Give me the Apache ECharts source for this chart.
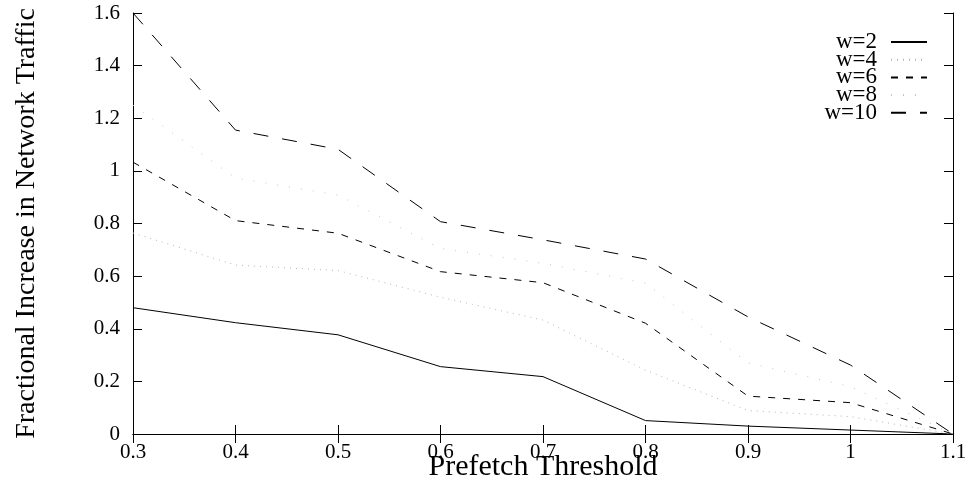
<!DOCTYPE html>
<html>
<head>
<meta charset="utf-8">
<script src="https://cdn.jsdelivr.net/npm/echarts@6/dist/echarts.min.js"></script>
<style>
html,body{margin:0;padding:0;background:#fff;}
#chart{width:967px;height:483px;}
</style>
</head>
<body>
<div id="chart"></div>
<script>
var thresholds = [0.3, 0.4, 0.5, 0.6, 0.7, 0.8, 0.9, 1.0, 1.1];
var w2  = [0.480, 0.423, 0.377, 0.256, 0.218, 0.051, 0.030, 0.015, 0];
var w4  = [0.764, 0.642, 0.621, 0.520, 0.433, 0.243, 0.089, 0.066, 0];
var w6  = [1.033, 0.811, 0.763, 0.617, 0.575, 0.421, 0.144, 0.119, 0];
var w8  = [1.250, 0.973, 0.908, 0.705, 0.649, 0.573, 0.270, 0.180, 0];
var w10 = [1.600, 1.155, 1.082, 0.807, 0.738, 0.665, 0.445, 0.262, 0];
var seriesNames = ['w=2', 'w=4', 'w=6', 'w=8', 'w=10'];
var xTicks = [0.3, 0.4, 0.5, 0.6, 0.7, 0.8, 0.9, 1, 1.1];
var yTicks = [0, 0.2, 0.4, 0.6, 0.8, 1, 1.2, 1.4, 1.6];

var FONT = 'Liberation Serif';
function pairs(arr) { return thresholds.map(function (t, i) { return [t, arr[i]]; }); }
function fmt(v) { return String(parseFloat(Number(v).toFixed(1))); }

var styles = [
  { color: '#000', width: 1, type: 'solid' },
  { color: '#b4b4b4', width: 1, type: [1, 5] },
  { color: '#000', width: 1, type: [7, 8] },
  { color: '#c4c4c4', width: 1, type: [1, 11] },
  { color: '#000', width: 1, type: [15, 14] }
];
var dataSets = [w2, w4, w6, w8, w10];

var axisLineStyle = { color: '#000', width: 1 };
var tick = { show: true, inside: true, length: 9, lineStyle: { color: '#000', width: 1 } };

var chart = echarts.init(document.getElementById('chart'), null, { renderer: 'canvas' });
chart.setOption({
  animation: false,
  backgroundColor: '#fff',
  grid: { left: 133, right: 14, top: 13, bottom: 49, containLabel: false, outerBoundsMode: 'none' },
  legend: {
    data: seriesNames,
    orient: 'vertical',
    align: 'right',
    right: 39,
    top: 30.5,
    padding: 0,
    itemGap: -5.3,
    itemWidth: 36,
    itemHeight: 10,
    itemStyle: { opacity: 0 },
    textStyle: { fontFamily: FONT, fontSize: 23, color: '#000', lineHeight: 18, padding: [0, 9, 0, 0] }
  },
  xAxis: [{
    type: 'value', position: 'bottom', min: 0.3, max: 1.1, interval: 0.1,
    name: 'Prefetch Threshold', nameLocation: 'middle', nameGap: 18, nameMoveOverlap: false,
    nameTextStyle: { fontFamily: FONT, fontSize: 30, color: '#000' },
    axisLine: { show: true, lineStyle: axisLineStyle },
    axisTick: tick, splitLine: { show: false },
    axisLabel: { fontFamily: FONT, fontSize: 21, color: '#000', margin: 8, formatter: fmt }
  }, {
    type: 'value', position: 'top', min: 0.3, max: 1.1, interval: 0.1,
    axisLine: { show: true, lineStyle: axisLineStyle },
    axisTick: tick, splitLine: { show: false }, axisLabel: { show: false }
  }],
  yAxis: [{
    type: 'value', position: 'left', min: 0, max: 1.6, interval: 0.2,
    name: 'Fractional Increase in Network Traffic', nameLocation: 'middle', nameGap: 92, nameMoveOverlap: false,
    nameTextStyle: { fontFamily: FONT, fontSize: 28, color: '#000' },
    axisLine: { show: true, lineStyle: axisLineStyle },
    axisTick: tick, splitLine: { show: false },
    axisLabel: { fontFamily: FONT, fontSize: 21, color: '#000', margin: 13, formatter: fmt }
  }, {
    type: 'value', position: 'right', min: 0, max: 1.6, interval: 0.2,
    axisLine: { show: true, lineStyle: axisLineStyle },
    axisTick: tick, splitLine: { show: false }, axisLabel: { show: false }
  }],
  series: seriesNames.map(function (n, i) {
    return {
      name: n, type: 'line', xAxisIndex: 0, yAxisIndex: 0,
      data: pairs(dataSets[i]), symbol: 'none', showSymbol: false,
      lineStyle: styles[i], itemStyle: { color: styles[i].color }
    };
  })
});
</script>
</body>
</html>
